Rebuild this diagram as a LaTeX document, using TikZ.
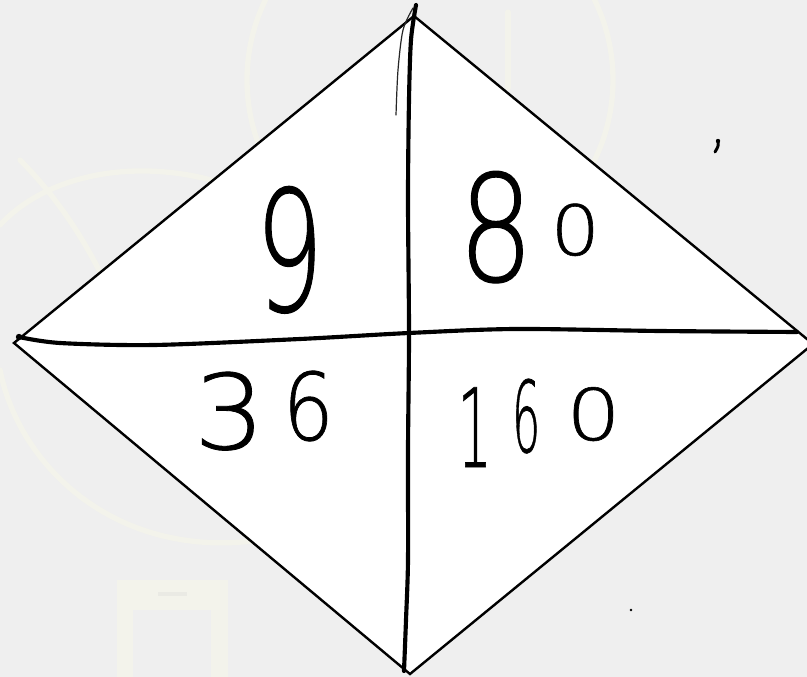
\documentclass[tikz,border=0pt]{standalone}
\usepackage{fontspec}
\usepackage{graphicx}
\newfontfamily\hand[FakeBold=0.8]{DejaVu Sans ExtraLight}
\definecolor{bg}{HTML}{EFEFEF}
\definecolor{wm}{HTML}{F3F3EB}
\definecolor{wmslot}{HTML}{EAEAE4}
\newcommand\dg[4]{\raisebox{#3}{\scalebox{#1}[1]{\fontsize{#2}{#2}\selectfont #4}}}
\tikzset{
  edge/.style={draw=black, line width=1.8pt, line join=miter},
  pen/.style={draw=black, line width=3.1pt, line cap=round, line join=round},
  thinpen/.style={draw=black!85, line width=0.9pt, line cap=round},
  num/.style={anchor=base west, inner sep=0pt, font=\hand, text=black},
  wmline/.style={draw=wm, line width=4pt, line cap=round}
}
\begin{document}
\begin{tikzpicture}[x=0.75pt,y=-0.75pt]
\useasboundingbox (0,0) rectangle (807,677);
\fill[bg] (0,0) rectangle (807,677);
% faint watermark
\begin{scope}
\clip (0,0) rectangle (807,677);
\draw[wmline] (430,80) circle (183);
\draw[wmline] (508,12) -- (508,88);
\draw[wmline] (0,225) .. controls (60,160) and (190,150) .. (290,215);
\draw[wmline] (20,160) .. controls (80,220) and (120,300) .. (140,380);
\draw[wmline] (0,370) .. controls (20,470) and (120,560) .. (260,540);
\fill[wm] (117,580) rectangle (228,690);
\fill[bg] (133,610) rectangle (211,690);
\fill[wmslot] (158,592) rectangle (187,596);
\end{scope}
% diamond
\coordinate (T) at (414,16);
\coordinate (L) at (14,343);
\coordinate (B) at (410,674);
\coordinate (R) at (813,344);
\begin{scope}
\clip (0,0) rectangle (807,677);
\path[edge, fill=white] (T) -- (L) -- (B) -- (R) -- cycle;
\end{scope}
% handwritten cross
\coordinate (VT) at (416,5);
\coordinate (VB) at (404,671);
\coordinate (HL) at (19,337);
\coordinate (HR) at (797,332);
\coordinate (ST) at (413,8);
\coordinate (SB) at (396,115);
\draw[thinpen] plot[smooth] coordinates {(ST) (403,30) (398,70) (SB)};
\draw[pen] plot[smooth, tension=0.5] coordinates {(VT) (411,40) (409,100) (408,200) (409,333) (408,450) (408,560) (406,620) (VB)};
\draw[pen] plot[smooth, tension=0.5] coordinates {(HL) (60,343) (154,345) (300,339) (409,333) (515,329) (660,331) (HR)};
\fill[black] (HL) circle (3.2);
% numbers
\node[num] (n9) at (255,311) {\dg{0.64}{126}{0pt}{9}};
\node[num] (n80) at (458,281) {\dg{0.8}{111}{0pt}{8}\hspace{12.75pt}\dg{1.12}{52}{19.5pt}{0}};
\node[num] (n36) at (193.5,449) {\dg{1.08}{78}{0pt}{3}\hspace{13.2pt}\dg{0.86}{70}{6.75pt}{6}};
\node[num] (n160) at (457,467) {\dg{0.5}{82}{0pt}{1}\hspace{15pt}\dg{0.45}{74}{11.25pt}{6}\hspace{19.5pt}\dg{1.2}{53.5}{20.25pt}{0}};
% stray marks
\coordinate (CT) at (718,141);
\coordinate (CB) at (715,152);
\draw[black, line width=2.2pt, line cap=round] (CT) .. controls (718.5,146) .. (CB);
\fill[black] (CT) circle (2.2);
\fill[black] (631,610) circle (1.4);
\end{tikzpicture}
\end{document}
